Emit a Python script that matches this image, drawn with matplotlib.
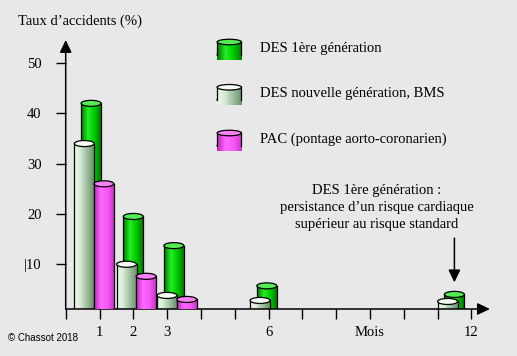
import matplotlib
matplotlib.use("Agg")
import matplotlib.pyplot as plt
import numpy as np
from matplotlib.patches import Ellipse, Rectangle

# data
months = [1, 2, 3, 6, 12]
des1 = [42, 19.5, 13.7, 5.7, 4.0]          # DES 1ere generation
des_new = [34, 10, 3.8, 2.8, 2.6]          # DES nouvelle generation, BMS
pac = [26, 7.6, 3.0]                       # PAC, only months 1-3
series_names = ["DES 1ère génération",
                "DES nouvelle génération, BMS",
                "PAC (pontage aorto-coronarien)"]
xtick_pos = list(range(13))
xtick_labels = ["", "1", "2", "3", "", "", "6", "", "", "Mois", "", "", "12"]
ytick_pos = [10, 20, 30, 40, 50]
ytick_labels = ["|10", "20", "30", "40", "50"]   # the stray bar is in the original

# layout / style
BG = "#e8e8e8"
SERIF = ["Liberation Serif", "DejaVu Serif"]
BASE = 1.1                 # value where the x axis is drawn
YTOP = 54.6
XMAX = 12.55
W = 0.59                   # cylinder width in months
ELL = 1.2                  # height of the top ellipse
group_nudge = [-0.45, -0.2, 0.0, -0.25, -0.7]   # where each group sits vs its month
off_green, off_light, off_pac = 0.2, 0.0, 0.58

green_stops = [(0, (0, 120, 0)), (0.35, (40, 235, 40)), (0.6, (0, 215, 0)), (1, (0, 125, 0))]
light_stops = [(0, (238, 250, 238)), (0.3, (215, 236, 215)), (1, (105, 145, 105))]
pac_stops = [(0, (185, 40, 185)), (0.35, (255, 105, 255)), (0.7, (245, 85, 245)), (1, (200, 55, 200))]
green_top = (0.33, 0.92, 0.33)
light_top = (0.96, 0.99, 0.96)
pac_top = (0.98, 0.5, 0.98)


def gradient(stops, n=64):
    t = np.linspace(0, 1, n)
    pos = [s[0] for s in stops]
    rgb = np.array([s[1] for s in stops]) / 255.0
    g = np.stack([np.interp(t, pos, rgb[:, k]) for k in range(3)], axis=-1)
    return g[np.newaxis, :, :]


def cylinder(ax, xc, top, stops, top_color, z, width=W, base=BASE, ell=ELL,
             clip=True, round_bottom=False):
    x0, x1 = xc - width / 2, xc + width / 2
    im = ax.imshow(gradient(stops), extent=[x0, x1, base, top], aspect="auto",
                   interpolation="bilinear", zorder=z)
    im.set_clip_path(Rectangle((x0, base), width, top - base, transform=ax.transData))
    im.set_clip_on(clip)
    if round_bottom:
        ax.add_patch(Ellipse((xc, base), width, ell, facecolor="none", edgecolor="black",
                             lw=0.9, zorder=z - 0.02, clip_on=clip))
        im2 = ax.imshow(gradient(stops), extent=[x0, x1, base - ell, base + 0.01], aspect="auto",
                        interpolation="bilinear", zorder=z - 0.01)
        im2.set_clip_path(Ellipse((xc, base), width, ell, transform=ax.transData))
        im2.set_clip_on(clip)
    ax.plot([x0, x0], [base, top], color="black", lw=0.9, zorder=z, clip_on=clip)
    ax.plot([x1, x1], [base, top], color="black", lw=0.9, zorder=z, clip_on=clip)
    ax.add_patch(Ellipse((xc, top), width, ell, facecolor=top_color, edgecolor="black",
                         lw=0.9, zorder=z + 0.01, clip_on=clip))


fig = plt.figure(figsize=(5.17, 3.56), dpi=100, facecolor=BG)
ax = fig.add_axes([65.7 / 517, 47 / 356, 33.8 * XMAX / 517, 269 / 356])
ax.set_facecolor(BG)
ax.patch.set_alpha(0)

for i, m in enumerate(months):
    cylinder(ax, m + group_nudge[i] + off_green, des1[i], green_stops, green_top, 2)
    cylinder(ax, m + group_nudge[i] + off_light, des_new[i], light_stops, light_top, 3)
    if i < len(pac):
        cylinder(ax, m + group_nudge[i] + off_pac, pac[i], pac_stops, pac_top, 3.05)

ax.set_xlim(0, XMAX)
ax.set_ylim(BASE, YTOP)
for s in ax.spines.values():
    s.set_visible(False)

# axes with arrow heads
arrow = dict(arrowstyle="-|>,head_length=0.75,head_width=0.36", color="black",
             lw=1.1, mutation_scale=10, shrinkA=0, shrinkB=0)
ax.annotate("", xy=(0, YTOP), xytext=(0, BASE), arrowprops=arrow, annotation_clip=False)
ax.annotate("", xy=(XMAX, BASE), xytext=(0, BASE), arrowprops=arrow, annotation_clip=False)

ax.set_yticks(ytick_pos)
ax.set_yticklabels(ytick_labels, family=SERIF, fontsize=10.5)
ax.set_xticks(xtick_pos)
ax.set_xticklabels(xtick_labels, family=SERIF, fontsize=10.5)
ax.tick_params(axis="y", direction="out", length=7.5, width=1, pad=10)
ax.tick_params(axis="x", direction="out", length=7.5, width=1, pad=5)

# legend drawn by hand with small cylinders
leg_y = [53.0, 44.0, 34.9]
leg_stops = [green_stops, light_stops, pac_stops]
leg_tops = [green_top, light_top, pac_top]
for k in range(3):
    cylinder(ax, 4.84, leg_y[k] + 1.2, leg_stops[k], leg_tops[k], 5,
             width=0.72, base=leg_y[k] - 1.3, ell=1.1, clip=False, round_bottom=True)
    ax.text(5.75, leg_y[k], series_names[k], family=SERIF, fontsize=10.5,
            va="center", ha="left", clip_on=False)

# annotation above the 12-month bars
ig = months.index(12)
xa = months[ig] + group_nudge[ig] + off_green
ax.annotate("", xy=(xa, des1[ig] + 2.4), xytext=(xa, des1[ig] + 11.2),
            arrowprops=arrow, annotation_clip=False)
ax.text(9.2, 25.9, "DES 1ère génération :\npersistance d\u2019un risque cardiaque\nsupérieur au risque standard",
        family=SERIF, fontsize=10.5, ha="center", va="top", linespacing=1.38)

fig.text(18 / 517, 1 - 21 / 356, "Taux d\u2019accidents (%)", family=SERIF, fontsize=10.5,
         ha="left", va="center")
fig.text(8 / 517, 1 - 338 / 356, "\u00a9 Chassot 2018", family=["Liberation Sans", "DejaVu Sans"],
         fontsize=7, ha="left", va="center")

fig.savefig("out.png", dpi=100, facecolor=BG)
